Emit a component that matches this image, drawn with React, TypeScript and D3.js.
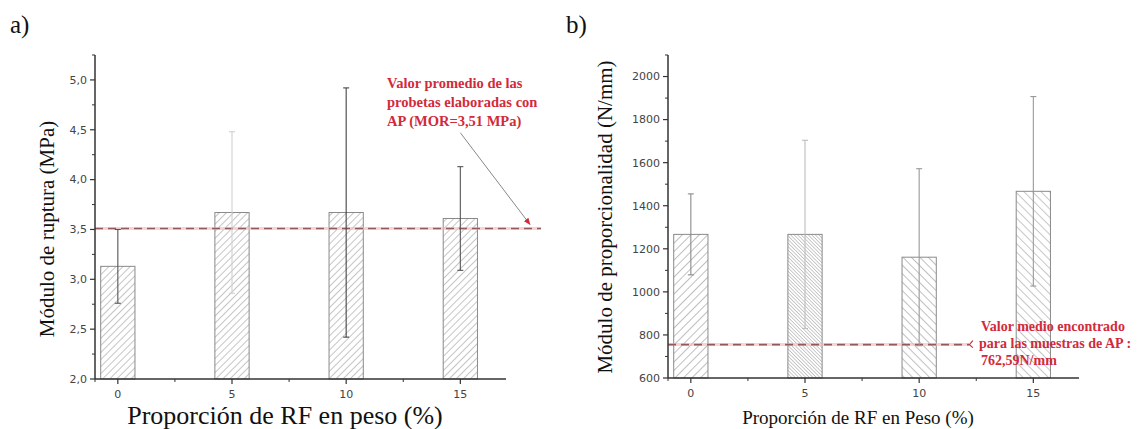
import React from 'react';
import * as d3 from 'd3';

// Proporción de RF (%) on the x axis, shared by both panels
const categories = [0, 5, 10, 15];
const xTicks = [0, 5, 10, 15];
const xMinorTicks = [-1, 2.5, 7.5, 12.5];

// a) Módulo de ruptura (MPa)
const rupturaMeans = [3.13, 3.67, 3.67, 3.61];
const rupturaErrors = [0.37, 0.81, 1.25, 0.52];
const rupturaTicks = [2.0, 2.5, 3.0, 3.5, 4.0, 4.5, 5.0];
const rupturaRef = 3.51;

// b) Módulo de proporcionalidad (N/mm)
const propMeans = [1267, 1267, 1161, 1467];
const propErrors = [188, 437, 411, 440];
const propTicks = [600, 800, 1000, 1200, 1400, 1600, 1800, 2000];
const propRef = 755;

const W = 1143;
const H = 429;
const SERIF = '"Liberation Serif", "Times New Roman", serif';
const SANS = '"DejaVu Sans", Verdana, sans-serif';
const RED = '#d22a3a';

interface PanelProps {
  left: number;
  right: number;
  top: number;
  bottom: number;
  yDomain: [number, number];
  yTicks: number[];
  yMinorStep: number;
  fmt: (v: number) => string;
  means: number[];
  errors: number[];
  hatches: string[];
  errColors: string[];
  refValue: number;
  refEndX: number;
  yLabel: string;
  yLabelX: number;
  yLabelY: number;
  yLabelSize: number;
  xLabel: string;
  xLabelX: number;
  xLabelY: number;
  xLabelSize: number;
  tag: string;
  tagX: number;
  children?: (x: d3.ScaleLinear<number, number>, y: d3.ScaleLinear<number, number>) => React.ReactNode;
}

const Panel: React.FC<PanelProps> = (p) => {
  const x = d3.scaleLinear().domain([-1, 17]).range([p.left, p.right]);
  const y = d3.scaleLinear().domain(p.yDomain).range([p.bottom, p.top]);
  const barW = x(1.5) - x(0);
  const yMinor = d3.range(p.yDomain[0], p.yDomain[1] + 1e-9, p.yMinorStep)
    .filter((v) => !p.yTicks.some((t) => Math.abs(t - v) < 1e-9));

  return (
    <g>
      <text x={p.tagX} y={33} fontFamily={SERIF} fontSize={25} fill="#111">{p.tag}</text>

      {/* bars */}
      {categories.map((c, i) => (
        <rect key={'b' + c} x={x(c) - barW / 2} y={y(p.means[i])} width={barW}
          height={y(p.yDomain[0]) - y(p.means[i])}
          fill={`url(#${p.hatches[i]})`} stroke="#8a8a8a" strokeWidth={1} />
      ))}

      {/* reference line */}
      <line x1={p.left} x2={p.refEndX} y1={y(p.refValue)} y2={y(p.refValue)}
        stroke="#f2b8b8" strokeWidth={3} opacity={0.6} />
      <line x1={p.left} x2={p.refEndX} y1={y(p.refValue)} y2={y(p.refValue)}
        stroke="#985858" strokeWidth={1.6} strokeDasharray="8 5" />

      {/* error bars */}
      {categories.map((c, i) => {
        const cx = x(c);
        const hi = y(p.means[i] + p.errors[i]);
        const lo = y(p.means[i] - p.errors[i]);
        return (
          <g key={'e' + c} stroke={p.errColors[i]} strokeWidth={1.1}>
            <line x1={cx} x2={cx} y1={hi} y2={lo} />
            <line x1={cx - 3} x2={cx + 3} y1={hi} y2={hi} />
            <line x1={cx - 3} x2={cx + 3} y1={lo} y2={lo} />
          </g>
        );
      })}

      {/* y axis */}
      <line x1={p.left} x2={p.left} y1={p.top} y2={p.bottom} stroke="#333" strokeWidth={1.5} />
      {p.yTicks.map((t) => (
        <g key={'yt' + t}>
          <line x1={p.left - 5} x2={p.left} y1={y(t)} y2={y(t)} stroke="#333" strokeWidth={1.2} />
          <text x={p.left - 8} y={y(t)} dy="0.35em" textAnchor="end" fontFamily={SANS}
            fontSize={11} fill="#444">{p.fmt(t)}</text>
        </g>
      ))}
      {yMinor.map((t) => (
        <line key={'ym' + t} x1={p.left - 3} x2={p.left} y1={y(t)} y2={y(t)} stroke="#333" strokeWidth={1} />
      ))}

      {/* x axis */}
      <line x1={p.left} x2={p.right} y1={p.bottom} y2={p.bottom} stroke="#333" strokeWidth={1.5} />
      {xTicks.map((t) => (
        <g key={'xt' + t}>
          <line x1={x(t)} x2={x(t)} y1={p.bottom} y2={p.bottom + 5} stroke="#333" strokeWidth={1.2} />
          <text x={x(t)} y={p.bottom + 19} textAnchor="middle" fontFamily={SANS}
            fontSize={11} fill="#444">{t}</text>
        </g>
      ))}
      {xMinorTicks.map((t) => (
        <line key={'xm' + t} x1={x(t)} x2={x(t)} y1={p.bottom} y2={p.bottom + 3} stroke="#333" strokeWidth={1} />
      ))}

      {/* axis titles */}
      <text transform={`translate(${p.yLabelX},${p.yLabelY}) rotate(-90)`} textAnchor="middle"
        dy="0.35em" fontFamily={SERIF} fontSize={p.yLabelSize} fill="#111">{p.yLabel}</text>
      <text x={p.xLabelX} y={p.xLabelY} textAnchor="middle" fontFamily={SERIF}
        fontSize={p.xLabelSize} fill="#111">{p.xLabel}</text>

      {p.children && p.children(x, y)}
    </g>
  );
};

const Hatch: React.FC<{ id: string; gap: number; angle: number; color: string; width: number }> = ({ id, gap, angle, color, width }) => (
  <pattern id={id} patternUnits="userSpaceOnUse" width={gap} height={gap} patternTransform={`rotate(${angle})`}>
    <rect width={gap} height={gap} fill="#fff" />
    <line x1={0} y1={0} x2={0} y2={gap} stroke={color} strokeWidth={width} />
  </pattern>
);

export default function App() {
  const boldText = { fontFamily: SERIF, fontWeight: 700, fill: RED } as const;
  return (
    <svg width={W} height={H} style={{ position: 'absolute', left: 0, top: 0, background: '#fff' }}>
      <defs>
        <Hatch id="hA" gap={5} angle={45} color="#8c8c8c" width={1} />
        <Hatch id="hB0" gap={6} angle={45} color="#808080" width={1} />
        <Hatch id="hB5" gap={2.5} angle={-45} color="#8a8a8a" width={0.9} />
        <Hatch id="hB10" gap={6} angle={-45} color="#808080" width={1} />
        <Hatch id="hB15" gap={6} angle={-45} color="#909090" width={1} />
        <marker id="arrA" viewBox="0 0 10 10" refX={9} refY={5} markerWidth={7} markerHeight={7} orient="auto">
          <path d="M0,1 L10,5 L0,9 Z" fill={RED} />
        </marker>
      </defs>

      <Panel left={95} right={506} top={55} bottom={379} yDomain={[2, 5.25]} yTicks={rupturaTicks}
        yMinorStep={0.25} fmt={(v) => v.toFixed(1).replace('.', ',')}
        means={rupturaMeans} errors={rupturaErrors}
        hatches={['hA', 'hA', 'hA', 'hA']}
        errColors={['#555', '#d0d0d0', '#444', '#555']}
        refValue={rupturaRef} refEndX={541}
        yLabel="Módulo de ruptura (MPa)" yLabelX={47} yLabelY={229} yLabelSize={21}
        xLabel="Proporción de RF en peso (%)" xLabelX={285} xLabelY={424} xLabelSize={26}
        tag="a)" tagX={10}>
        {(x, y) => (
          <g>
            <line x1={x(15.0)} y1={y(4.47)} x2={x(18.05)} y2={y(3.55)} stroke="#888" strokeWidth={1}
              markerEnd="url(#arrA)" />
            <text x={387} y={88} fontSize={14.5} {...boldText}>Valor promedio de las</text>
            <text x={387} y={107} fontSize={14.5} {...boldText}>probetas elaboradas con</text>
            <text x={387} y={126} fontSize={14.5} {...boldText}>AP (MOR=3,51 MPa)</text>
          </g>
        )}
      </Panel>

      <Panel left={668} right={1079} top={55} bottom={378} yDomain={[600, 2100]} yTicks={propTicks}
        yMinorStep={100} fmt={(v) => String(v)}
        means={propMeans} errors={propErrors}
        hatches={['hB0', 'hB5', 'hB10', 'hB15']}
        errColors={['#8a8a8a', '#bdbdbd', '#999', '#9a9a9a']}
        refValue={propRef} refEndX={969}
        yLabel="Módulo de proporcionalidad (N/mm)" yLabelX={605} yLabelY={217} yLabelSize={21}
        xLabel="Proporción de RF en Peso (%)" xLabelX={858} xLabelY={424} xLabelSize={19}
        tag="b)" tagX={566}>
        {(x, y) => (
          <g>
            <path d={`M${x(12.35)},${y(propRef) - 4} L${x(12.2)},${y(propRef)} L${x(12.35)},${y(propRef) + 3}`}
              stroke={RED} strokeWidth={1.2} fill="none" />
            <text x={981} y={331} fontSize={14} {...boldText}>Valor medio encontrado</text>
            <text x={979} y={348} fontSize={14} {...boldText}>para las muestras de AP :</text>
            <text x={981} y={365} fontSize={14} {...boldText}>762,59N/mm</text>
          </g>
        )}
      </Panel>
    </svg>
  );
}
